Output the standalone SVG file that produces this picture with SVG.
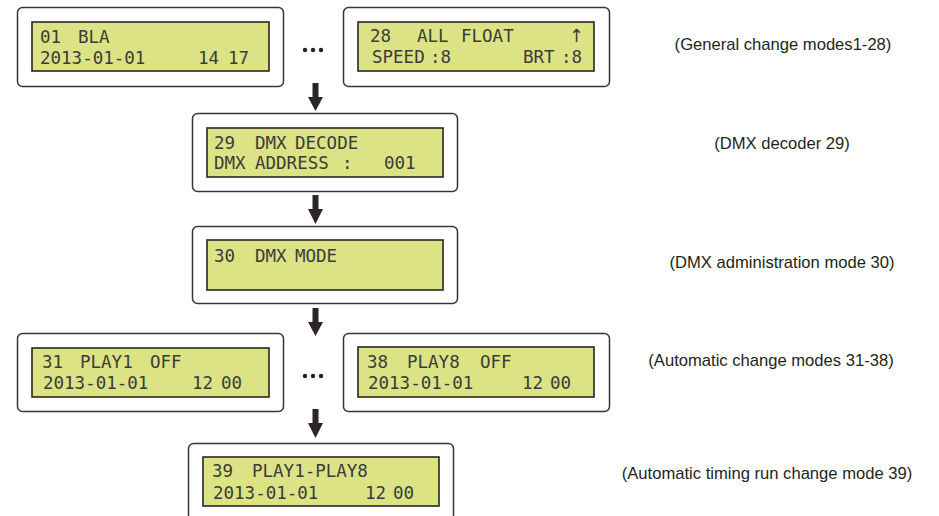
<svg xmlns="http://www.w3.org/2000/svg" width="939" height="516" viewBox="0 0 939 516">
<style>
.outer{fill:#fff;stroke:#3a3536;stroke-width:1.5}
.lcd{fill:#dce384;stroke:#2a2526;stroke-width:1.6}
.lt{font-family:"DejaVu Sans Mono","Liberation Mono",monospace;font-size:17.5px;fill:#3b3b3b}
.lbl{font-family:"Liberation Sans",Arial,sans-serif;font-size:16.6px;fill:#231f20;text-anchor:middle}
.arr{fill:#2b2526}
.dot{fill:#231f20}
</style>
<rect width="939" height="516" fill="#fff"/>
<g id="node01">
<rect class="outer" x="17.5" y="7.5" width="266" height="79" rx="5"/>
<rect class="lcd" x="32" y="22" width="237" height="49"/>
<text class="lt" y="43"><tspan x="40">01</tspan><tspan x="78">BLA</tspan></text>
<text class="lt" y="64"><tspan x="40">2013-01-01</tspan><tspan x="198">14</tspan><tspan x="228">17</tspan></text>
</g>
<g id="node28">
<rect class="outer" x="343.5" y="7.5" width="266" height="79" rx="5"/>
<rect class="lcd" x="358" y="22" width="236" height="49"/>
<text class="lt" y="42"><tspan x="370">28</tspan><tspan x="417">ALL</tspan><tspan x="461">FLOAT</tspan></text>
<text x="569" y="42" style="font-family:'DejaVu Sans',sans-serif;font-size:18px;fill:#3b3b3b">↑</text>
<text class="lt" y="63"><tspan x="372">SPEED</tspan><tspan x="430">:8</tspan><tspan x="523">BRT</tspan><tspan x="561">:8</tspan></text>
</g>
<g id="node29">
<rect class="outer" x="192.5" y="113.5" width="265" height="78" rx="5"/>
<rect class="lcd" x="207" y="128" width="236" height="49"/>
<text class="lt" y="149"><tspan x="214">29</tspan><tspan x="255">DMX</tspan><tspan x="295">DECODE</tspan></text>
<text class="lt" y="169"><tspan x="214">DMX</tspan><tspan x="255">ADDRESS</tspan><tspan x="342">:</tspan><tspan x="384">001</tspan></text>
</g>
<g id="node30">
<rect class="outer" x="192.5" y="226.5" width="265" height="77" rx="5"/>
<rect class="lcd" x="207" y="240" width="236" height="50"/>
<text class="lt" y="262"><tspan x="214">30</tspan><tspan x="255">DMX</tspan><tspan x="295">MODE</tspan></text>
</g>
<g id="node31">
<rect class="outer" x="17.5" y="333.5" width="266" height="78" rx="5"/>
<rect class="lcd" x="32" y="348" width="237" height="49"/>
<text class="lt" y="368"><tspan x="42">31</tspan><tspan x="80">PLAY1</tspan><tspan x="150">OFF</tspan></text>
<text class="lt" y="389"><tspan x="43">2013-01-01</tspan><tspan x="192">12</tspan><tspan x="221">00</tspan></text>
</g>
<g id="node38">
<rect class="outer" x="343.5" y="333.5" width="266" height="78" rx="5"/>
<rect class="lcd" x="358" y="347" width="236" height="50"/>
<text class="lt" y="368"><tspan x="367">38</tspan><tspan x="407">PLAY8</tspan><tspan x="480">OFF</tspan></text>
<text class="lt" y="389"><tspan x="368">2013-01-01</tspan><tspan x="522">12</tspan><tspan x="550">00</tspan></text>
</g>
<g id="node39">
<rect class="outer" x="188.5" y="443.5" width="265" height="80" rx="5"/>
<rect class="lcd" x="203" y="457" width="236" height="49"/>
<text class="lt" y="477"><tspan x="212">39</tspan><tspan x="252">PLAY1-PLAY8</tspan></text>
<text class="lt" y="499"><tspan x="213">2013-01-01</tspan><tspan x="365">12</tspan><tspan x="393">00</tspan></text>
</g>
<g id="ellipsis">
<circle class="dot" cx="305" cy="50" r="2.2"/><circle class="dot" cx="313" cy="50" r="2.2"/><circle class="dot" cx="321" cy="50" r="2.2"/>
<circle class="dot" cx="305" cy="376" r="2.2"/><circle class="dot" cx="313" cy="376" r="2.2"/><circle class="dot" cx="321" cy="376" r="2.2"/>
</g>
<g id="connectors">
<polygon class="arr" points="312.5,83 318.5,83 318.5,97 323,97 315.5,111 308,97 312.5,97"/>
<polygon class="arr" points="312.5,195 318.5,195 318.5,209 323,209 315.5,224 308,209 312.5,209"/>
<polygon class="arr" points="312.5,308 318.5,308 318.5,322 323,322 315.5,336 308,322 312.5,322"/>
<polygon class="arr" points="312.5,409 318.5,409 318.5,423 323,423 315.5,438 308,423 312.5,423"/>
</g>
<g id="labels">
<text class="lbl" x="783" y="50">(General change modes1-28)</text>
<text class="lbl" x="782" y="149">(DMX decoder 29)</text>
<text class="lbl" x="782" y="268">(DMX administration mode 30)</text>
<text class="lbl" x="771" y="366">(Automatic change modes 31-38)</text>
<text class="lbl" x="767" y="479">(Automatic timing run change mode 39)</text>
</g>
</svg>
